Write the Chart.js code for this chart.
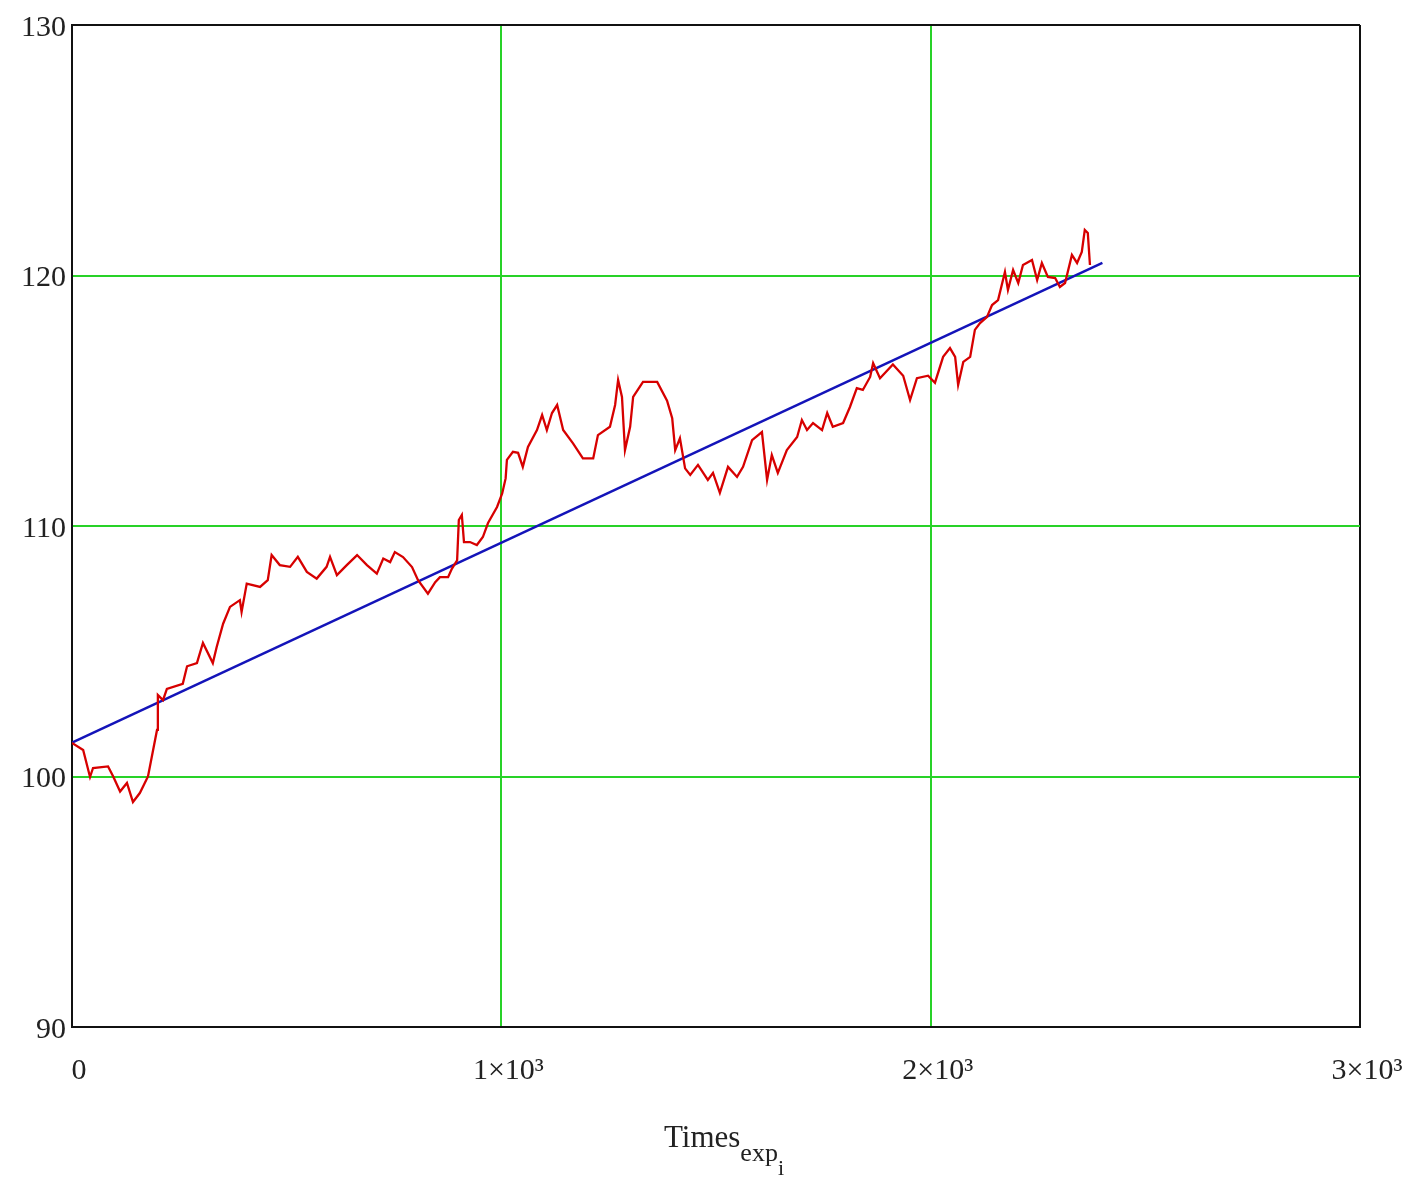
<!DOCTYPE html>
<html>
<head>
<meta charset="utf-8">
<script src="https://cdn.jsdelivr.net/npm/chart.js@4"></script>
<style>
  body { margin: 0; background: #fff; }
  canvas { display: block; }
</style>
</head>
<body>
<canvas id="myChart" width="1417" height="1181"></canvas>
<script>
const redTimes = [0, 26, 42, 49, 84, 96, 112, 128, 142, 158, 177, 198, 200, 212, 221, 258, 268, 291, 305, 328,
  337, 352, 368, 391, 395, 407, 438, 456, 465, 484, 508, 526, 547, 570, 593, 601, 617, 640, 664, 687,
  710, 725, 741, 752, 771, 792, 806, 829, 846, 857, 876, 885, 897, 901, 908, 913, 927, 943, 957, 969,
  990, 1002, 1010, 1013, 1027, 1039, 1050, 1062, 1083, 1095, 1106, 1118, 1130, 1144, 1167, 1190, 1214, 1225, 1253, 1265,
  1272, 1281, 1288, 1300, 1307, 1330, 1363, 1386, 1398, 1405, 1416, 1428, 1440, 1458, 1481, 1493, 1509, 1528, 1549, 1563,
  1584, 1607, 1619, 1630, 1644, 1665, 1689, 1700, 1712, 1726, 1747, 1759, 1772, 1796, 1812, 1828, 1842, 1859, 1866, 1882,
  1912, 1936, 1952, 1968, 1994, 2010, 2029, 2045, 2057, 2064, 2076, 2092, 2103, 2115, 2131, 2143, 2157, 2173, 2180, 2192,
  2204, 2215, 2236, 2248, 2259, 2273, 2290, 2301, 2313, 2329, 2341, 2352, 2359, 2366, 2371];
const redValues = [101.34, 101.06, 99.98, 100.34, 100.4, 100.0, 99.4, 99.74, 98.98, 99.34, 100.0, 101.86, 103.25, 103.05, 103.5, 103.7, 104.4, 104.53, 105.33, 104.53,
  105.17, 106.1, 106.77, 107.04, 106.57, 107.7, 107.57, 107.84, 108.84, 108.44, 108.37, 108.77, 108.17, 107.9, 108.37, 108.77, 108.04, 108.44, 108.84, 108.44,
  108.1, 108.7, 108.56, 108.96, 108.76, 108.36, 107.84, 107.3, 107.76, 107.96, 107.96, 108.3, 108.63, 110.24, 110.44, 109.36, 109.36, 109.24, 109.56, 110.12,
  110.76, 111.3, 111.9, 112.64, 112.96, 112.92, 112.36, 113.16, 113.83, 114.43, 113.83, 114.51, 114.83, 113.83, 113.3, 112.7, 112.7, 113.63, 113.96, 114.83,
  115.83, 115.15, 113.03, 113.96, 115.15, 115.75, 115.75, 115.0, 114.3, 113.03, 113.5, 112.3, 112.04, 112.44, 111.84, 112.12, 111.32, 112.36, 111.96, 112.36,
  113.43, 113.75, 111.84, 112.83, 112.12, 113.03, 113.55, 114.23, 113.83, 114.11, 113.83, 114.51, 113.96, 114.11, 114.75, 115.5, 115.43, 115.95, 116.5, 115.9,
  116.45, 116.0, 115.03, 115.9, 116.0, 115.72, 116.75, 117.1, 116.75, 115.63, 116.55, 116.75, 117.83, 118.1, 118.34, 118.82, 119.02, 120.14, 119.42, 120.22,
  119.7, 120.42, 120.62, 119.82, 120.5, 119.94, 119.9, 119.54, 119.7, 120.82, 120.5, 120.94, 121.82, 121.7, 120.42];

// Linear fit (blue)
const fitTimes = [0, 2400];
const fitValues = [101.35, 120.5];

// Axis ticks
const xTickValues = [0, 1000, 2000, 3000];
const xTickLabels = ['0', '1\u00d710\u00b3', '2\u00d710\u00b3', '3\u00d710\u00b3'];
const yTickValues = [90, 100, 110, 120, 130];

const serif = '"Liberation Serif", "DejaVu Serif", serif';

// draws "Times" with nested subscripts "exp" and "i"
const axisLabel = {
  id: 'axisLabel',
  afterDraw(chart) {
    const ctx = chart.ctx;
    const area = chart.chartArea;
    const cx = (area.left + area.right) / 2 + 8;
    const base = 1147;
    ctx.save();
    ctx.fillStyle = '#222';
    ctx.textBaseline = 'alphabetic';
    ctx.font = '31px ' + serif;
    const w1 = ctx.measureText('Times').width;
    ctx.font = '26px ' + serif;
    const w2 = ctx.measureText('exp').width;
    ctx.font = '22px ' + serif;
    const w3 = ctx.measureText('i').width;
    let x = cx - (w1 + w2 + w3) / 2;
    ctx.font = '31px ' + serif;
    ctx.fillText('Times', x, base);
    x += w1;
    ctx.font = '26px ' + serif;
    ctx.fillText('exp', x, base + 14);
    x += w2;
    ctx.font = '22px ' + serif;
    ctx.fillText('i', x, base + 28);
    ctx.restore();
  }
};

const ctx = document.getElementById('myChart').getContext('2d');
const myChart = new Chart(ctx, {
  type: 'line',
  data: {
    datasets: [
      {
        data: redTimes.map((t, i) => ({ x: t, y: redValues[i] })),
        borderColor: 'rgb(215, 0, 0)',
        borderWidth: 2.3,
        pointRadius: 0,
        tension: 0
      },
      {
        data: fitTimes.map((t, i) => ({ x: t, y: fitValues[i] })),
        borderColor: 'rgb(20, 20, 185)',
        borderWidth: 2.5,
        pointRadius: 0,
        tension: 0
      }
    ]
  },
  options: {
    responsive: false,
    animation: false,
    layout: { padding: { top: 25, right: 57, left: 0, bottom: 0 } },
    plugins: {
      legend: { display: false },
      tooltip: { enabled: false }
    },
    scales: {
      x: {
        type: 'linear',
        min: 0,
        max: 3000,
        afterBuildTicks: scale => { scale.ticks = xTickValues.map(v => ({ value: v })); },
        afterFit: scale => {
          scale.height = 154;
          scale.paddingLeft = 0;
          scale.paddingRight = 0;
        },
        ticks: {
          callback: (val) => xTickLabels[xTickValues.indexOf(val)],
          font: { family: serif, size: 30 },
          color: '#222',
          padding: 26,
          labelOffset: 7,
          maxRotation: 0
        },
        grid: {
          drawTicks: false,
          lineWidth: 2,
          color: c => (c.tick && (c.tick.value === 0 || c.tick.value === 3000)) ? '#111' : 'rgb(40, 210, 40)'
        },
        border: { color: '#111', width: 2 }
      },
      y: {
        min: 90,
        max: 130,
        afterBuildTicks: scale => { scale.ticks = yTickValues.map(v => ({ value: v })); },
        afterFit: scale => {
          scale.width = 72;
          scale.paddingTop = 0;
          scale.paddingBottom = 0;
        },
        ticks: {
          font: { family: serif, size: 30 },
          color: '#222',
          padding: 6,
          labelOffset: 3
        },
        grid: {
          drawTicks: false,
          lineWidth: 2,
          color: c => (c.tick && (c.tick.value === 90 || c.tick.value === 130)) ? '#111' : 'rgb(40, 210, 40)'
        },
        border: { color: '#111', width: 2 }
      }
    }
  },
  plugins: [axisLabel]
});
</script>
</body>
</html>
